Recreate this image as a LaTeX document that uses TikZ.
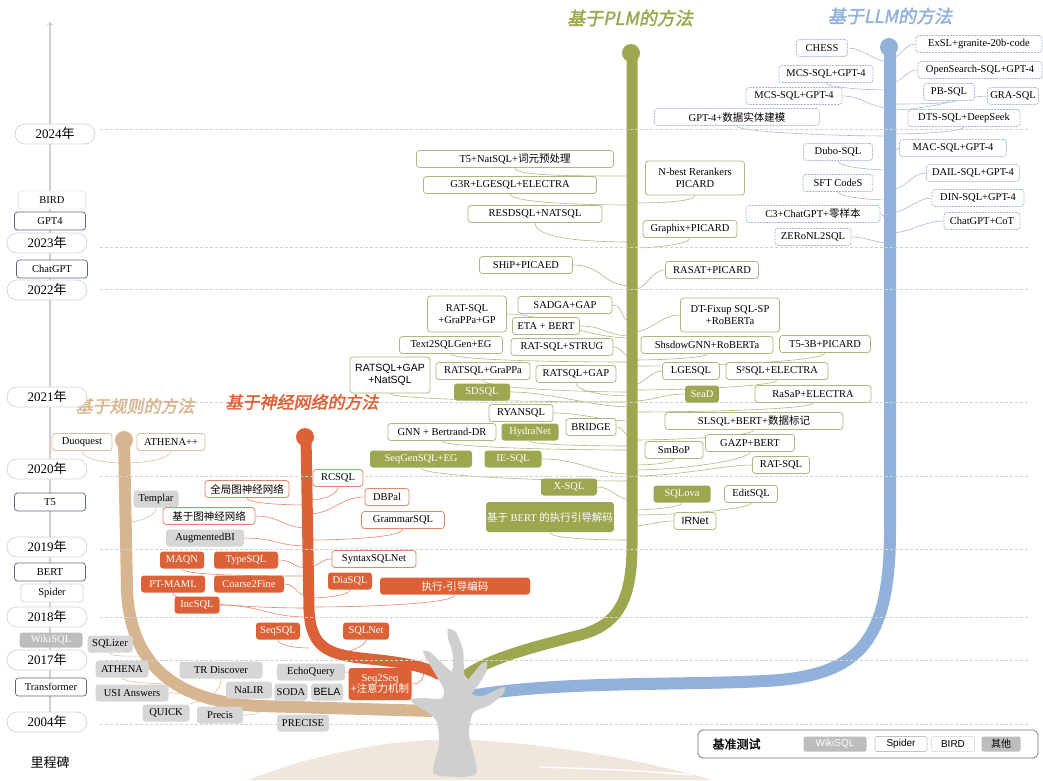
\documentclass[tikz,border=0pt]{standalone}
\usepackage{fontspec}
\setmainfont{Liberation Serif}
\setsansfont{Liberation Sans}
\newfontfamily\cjk{Noto Sans CJK SC}
\newfontfamily\cjkb[FakeBold=1.5]{Noto Sans CJK SC}
\newfontfamily\cjkt[FakeSlant=0.2,FakeBold=2]{Noto Sans CJK SC}

\definecolor{tanc}{HTML}{D7B590}
\definecolor{tanl}{HTML}{DDBE9C}
\definecolor{orc}{HTML}{DC6136}
\definecolor{orl}{HTML}{E2876A}
\definecolor{olc}{HTML}{9DA74F}
\definecolor{oll}{HTML}{B2B67E}
\definecolor{blc}{HTML}{91B1DB}
\definecolor{bll}{HTML}{A9BAD6}
\definecolor{othc}{HTML}{D6D6D6}
\definecolor{treec}{HTML}{CFCFCF}
\definecolor{groundc}{HTML}{EFE7DC}
\definecolor{gridc}{HTML}{D0D0D0}
\definecolor{pillc}{HTML}{D4D4D4}
\definecolor{legb}{HTML}{C4C4C4}
\definecolor{slatec}{HTML}{5B6682}
\definecolor{wikic}{HTML}{BDBDBD}
\definecolor{legc}{HTML}{6E6E7A}

\pgfdeclarelayer{bg}
\pgfdeclarelayer{mid}
\pgfsetlayers{bg,mid,main}

\tikzset{
  year/.style={draw=pillc, line width=0.7pt, rounded corners=10pt, fill=white,
    minimum width=80, minimum height=20, inner sep=0pt, font=\fontsize{13}{14}\selectfont},
  mile/.style={draw=slatec, line width=0.7pt, rounded corners=3pt, fill=white,
    minimum width=71, minimum height=18, inner sep=0pt, font=\fontsize{10.5}{11}\selectfont},
  box/.style={rounded corners=3pt, minimum height=17, inner sep=2pt, line width=0.8pt,
    align=center, font=\fontsize{10.5}{11.5}\selectfont},
  sans/.style={font=\sffamily\fontsize{10.5}{11.5}\selectfont},
  zh/.style={font=\cjk\fontsize{10.5}{11.5}\selectfont},
  oth/.style={box, fill=othc},
  rsp/.style={box, draw=tanl, fill=white},
  nwk/.style={box, fill=orc, text=white},
  nsp/.style={box, draw=orl, fill=white},
  pwk/.style={box, fill=olc, text=white},
  psp/.style={box, draw=oll, fill=white},
  lbd/.style={box, draw=bll, dash pattern=on 2pt off 1pt, fill=white},
  leg/.style={rounded corners=2pt, minimum height=15, inner sep=1pt, line width=0.7pt,
    font=\sffamily\fontsize{10}{11}\selectfont},
  title/.style={font=\cjkt\fontsize{18}{20}\selectfont},
  yearline/.style={gridc, line width=0.6pt, dash pattern=on 3pt off 2pt},
  rlink/.style={tanl, line width=0.6pt},
  nlink/.style={orl, line width=0.6pt},
  plink/.style={oll, line width=0.6pt},
  llink/.style={bll, line width=0.6pt},
}

\begin{document}
\begin{tikzpicture}[x=1pt,y=-1pt]
  \useasboundingbox (0,0) rectangle (1043,780);

  % branch titles
  \node[title, text=olc] (tplm) at (630,18) {基于PLM的方法};
  \node[title, text=blc] (tllm) at (890,16) {基于LLM的方法};
  \node[title, text=tanc, font=\cjkt\fontsize{17}{18}\selectfont] (trule) at (135,406) {基于规则的方法};
  \node[title, text=orc, font=\cjkt\fontsize{17}{18}\selectfont] (tneur) at (302,402) {基于神经网络的方法};

  % milestones on the time axis
  \node[year] (y2024) at (55,134) {2024{\cjk 年}};
  \node[year] (y2023) at (47,243) {2023{\cjk 年}};
  \node[year] (y2022) at (47,290) {2022{\cjk 年}};
  \node[year] (y2021) at (47,397) {2021{\cjk 年}};
  \node[year] (y2020) at (47,469) {2020{\cjk 年}};
  \node[year] (y2019) at (47,547) {2019{\cjk 年}};
  \node[year] (y2018) at (47,617) {2018{\cjk 年}};
  \node[year] (y2017) at (47,660) {2017{\cjk 年}};
  \node[year] (y2004) at (47,722) {2004{\cjk 年}};
  \node[mile, draw=pillc, dash pattern=on 1pt off 1pt, minimum width=67] (mbird) at (52,200) {BIRD};
  \node[mile] (mgpt4) at (50,221) {GPT4};
  \node[mile] (mchat) at (52,269) {ChatGPT};
  \node[mile] (mt5) at (50,502) {T5};
  \node[mile] (mbert) at (50,572) {BERT};
  \node[mile, draw=pillc, minimum width=62] (mspider) at (52,593) {Spider};
  \node[mile, draw=none, fill=wikic, text=white, minimum width=63, minimum height=15] (mwiki) at (51,640) {WikiSQL};
  \node[mile] (mtrans) at (51,687) {Transformer};
  \node[font=\cjk\fontsize{13}{14}\selectfont] (mlabel) at (50,763) {里程碑};

  % rule based
  \node[rsp, minimum width=60] (duo) at (82,442) {Duoquest};
  \node[rsp, minimum width=68] (athpp) at (171,442) {ATHENA++};
  \node[oth, minimum width=45] (templar) at (156,499) {Templar};
  \node[oth, minimum width=78] (augbi) at (205,538) {AugmentedBI};
  \node[oth, minimum width=45] (sqlizer) at (110,644) {SQLizer};
  \node[oth, minimum width=53] (athena) at (122,669) {ATHENA};
  \node[oth, minimum width=83] (trd) at (221,670) {TR Discover};
  \node[oth, minimum width=73] (usi) at (132,693) {USI Answers};
  \node[oth, minimum width=46] (nalir) at (249,690) {NaLIR};
  \node[oth, minimum width=47] (quick) at (166,713) {QUICK};
  \node[oth, minimum width=46] (precis) at (220,715) {Precis};
  \node[oth, minimum width=68] (echo) at (311,672) {EchoQuery};
  \node[oth, minimum width=33, inner xsep=1pt] (soda) at (291,692) {SODA};
  \node[oth, sans, minimum width=32] (bela) at (327,692) {BELA};
  \node[oth, minimum width=52] (precise) at (303,723) {PRECISE};

  % neural networks
  \node[nsp, minimum width=50] (rcsql) at (338,478) {RCSQL};
  \node[nsp, zh, minimum width=84] (glob) at (247,489) {全局图神经网络};
  \node[nsp, minimum width=44] (dbpal) at (387,497) {DBPal};
  \node[nsp, zh, minimum width=92] (gnnz) at (209,516) {基于图神经网络};
  \node[nsp, minimum width=83] (gram) at (403,520) {GrammarSQL};
  \node[nwk, minimum width=44] (maqn) at (182,560) {MAQN};
  \node[nwk, minimum width=64] (typesql) at (246,560) {TypeSQL};
  \node[nsp, minimum width=84] (syntax) at (374,559) {SyntaxSQLNet};
  \node[nwk, minimum width=64] (ptmaml) at (173,584) {PT-MAML};
  \node[nwk, minimum width=70] (c2f) at (249,584) {Coarse2Fine};
  \node[nwk, minimum width=44] (diasql) at (350,581) {DiaSQL};
  \node[nwk, zh, minimum width=150] (exeg) at (455,586) {执行-引导编码};
  \node[nwk, minimum width=45] (incsql) at (197,605) {IncSQL};
  \node[nwk, minimum width=44] (seqsql) at (278,631) {SeqSQL};
  \node[nwk, minimum width=46] (sqlnet) at (366,631) {SQLNet};
  \node[nwk, minimum width=63, minimum height=32, inner sep=1pt] (s2s) at (380,684) {Seq2Seq\\{\cjk +注意力机制}};

  % pre-trained language models, left of the stem
  \node[psp, minimum width=197] (t5nat) at (515,159) {T5+NatSQL+{\cjk 词元预处理}};
  \node[psp, minimum width=173] (g3r) at (510,185) {G3R+LGESQL+ELECTRA};
  \node[psp, minimum width=134] (resd) at (535,214) {RESDSQL+NATSQL};
  \node[psp, minimum width=93] (ship) at (526,265) {SHiP+PICAED};
  \node[psp, minimum width=79, minimum height=36] (ratgp) at (467,314) {RAT-SQL\\+GraPPa+GP};
  \node[psp, minimum width=94] (sadga) at (565,305) {SADGA+GAP};
  \node[psp, minimum width=67] (eta) at (546,326) {ETA + BERT};
  \node[psp, minimum width=103] (t2sg) at (451,345) {Text2SQLGen+EG};
  \node[psp, minimum width=102] (strug) at (562,347) {RAT-SQL+STRUG};
  \node[psp, sans, minimum width=80, minimum height=36] (rgapn) at (390,375) {RATSQL+GAP\\+NatSQL};
  \node[psp, minimum width=94] (rgrap) at (483,371) {RATSQL+GraPPa};
  \node[psp, minimum width=80] (rgap) at (576,374) {RATSQL+GAP};
  \node[pwk, minimum width=56] (sdsql) at (482,392) {SDSQL};
  \node[psp, minimum width=64] (ryan) at (521,413) {RYANSQL};
  \node[psp, minimum width=108] (gnnb) at (442,432) {GNN + Bertrand-DR};
  \node[pwk, minimum width=57] (hydra) at (530,432) {HydraNet};
  \node[psp, minimum width=50] (bridge) at (591,427) {BRIDGE};
  \node[pwk, minimum width=102] (seqgen) at (421,459) {SeqGenSQL+EG};
  \node[pwk, minimum width=57] (iesql) at (513,459) {IE-SQL};
  \node[pwk, minimum width=56] (xsql) at (569,487) {X-SQL};
  \node[pwk, minimum width=126, minimum height=30, inner xsep=1pt] (bertd) at (550,517) {{\cjk 基于} BERT {\cjk 的执行引导解码}};

  % pre-trained language models, right of the stem
  \node[psp, minimum width=99, minimum height=34] (nbest) at (695,178) {N-best Rerankers\\PICARD};
  \node[psp, minimum width=94] (graphix) at (690,229) {Graphix+PICARD};
  \node[psp, minimum width=93] (rasat) at (712,270) {RASAT+PICARD};
  \node[psp, minimum width=99, minimum height=34] (dtfix) at (730,315) {DT-Fixup SQL-SP\\+RoBERTa};
  \node[psp, minimum width=132] (shadow) at (707,345) {ShsdowGNN+RoBERTa};
  \node[psp, minimum width=91] (t53b) at (825,344) {T5-3B+PICARD};
  \node[psp, minimum width=57] (lge) at (691,371) {LGESQL};
  \node[psp, minimum width=102] (s2sql) at (777,371) {S²SQL+ELECTRA};
  \node[pwk, minimum width=34] (sead) at (702,394) {SeaD};
  \node[psp, minimum width=116] (rasap) at (813,394) {RaSaP+ELECTRA};
  \node[psp, minimum width=178] (slsql) at (754,421) {SLSQL+BERT+{\cjk 数据标记}};
  \node[psp, minimum width=58] (smbop) at (674,450) {SmBoP};
  \node[psp, minimum width=89] (gazp) at (750,443) {GAZP+BERT};
  \node[psp, minimum width=57] (ratsql) at (781,465) {RAT-SQL};
  \node[pwk, minimum width=57] (sqlova) at (682,494) {SQLova};
  \node[psp, minimum width=53] (editsql) at (751,494) {EditSQL};
  \node[psp, sans, minimum width=42] (irnet) at (695,521) {IRNet};

  % large language models
  \node[lbd, minimum width=51] (chess) at (822,48) {CHESS};
  \node[lbd, minimum width=94] (mcs1) at (826,74) {MCS-SQL+GPT-4};
  \node[lbd, minimum width=96] (mcs2) at (794,96) {MCS-SQL+GPT-4};
  \node[lbd, minimum width=165] (gpt4e) at (737,117) {GPT-4+{\cjk 数据实体建模}};
  \node[lbd, minimum width=69] (dubo) at (838,152) {Dubo-SQL};
  \node[lbd, minimum width=70] (sftc) at (838,183) {SFT CodeS};
  \node[lbd, minimum width=134] (c3) at (813,214) {C3+ChatGPT+{\cjk 零样本}};
  \node[lbd, minimum width=76] (zero) at (813,237) {ZERoNL2SQL};
  \node[lbd, minimum width=126] (exsl) at (979,44) {ExSL+granite-20b-code};
  \node[lbd, minimum width=124] (opens) at (980,70) {OpenSearch-SQL+GPT-4};
  \node[lbd, minimum width=51] (pbsql) at (949,92) {PB-SQL};
  \node[lbd, minimum width=51] (grasql) at (1013,96) {GRA-SQL};
  \node[lbd, minimum width=112] (dts) at (964,118) {DTS-SQL+DeepSeek};
  \node[lbd, minimum width=107] (mac) at (953,148) {MAC-SQL+GPT-4};
  \node[lbd, minimum width=93] (dail) at (973,173) {DAIL-SQL+GPT-4};
  \node[lbd, minimum width=92] (din) at (978,198) {DIN-SQL+GPT-4};
  \node[lbd, minimum width=76] (cot) at (982,221) {ChatGPT+CoT};

  % legend
  \node[draw=legc, line width=0.7pt, rounded corners=5pt, minimum width=340, minimum height=28] (legend) at (868,744) {};
  \node[font=\cjkb\fontsize{12}{13}\selectfont, anchor=west] (legtitle) at (709,744) {基准测试};
  \node[leg, fill=wikic, text=white, minimum width=63] (lwiki) at (835,744) {WikiSQL};
  \node[leg, draw=legb, minimum width=52] (lspider) at (901,744) {Spider};
  \node[leg, draw=legb, dash pattern=on 1pt off 1pt, minimum width=43] (lbird) at (953,744) {BIRD};
  \node[leg, fill=wikic, minimum width=39, font=\cjk\fontsize{10}{11}\selectfont] (loth) at (1001,744) {其他};

  \begin{pgfonlayer}{bg}
    % ground
    \fill[groundc] (248,780) .. controls (330,748) and (410,737) .. (470,740)
      .. controls (560,744) and (660,764) .. (712,780) -- cycle;
    \draw[white, line width=1.5pt] (540,767) .. controls (600,769) and (650,771) .. (692,775);
    % twigs: name/anchor/control out/control in/end on the stem
    \foreach \n/\a/\ax/\ay/\bx/\by/\x/\y in {
      duo/south/0/8/-20/0/124/463, athpp/south/0/8/20/0/124/463,
      templar/south/0/8/15/0/126/522, sqlizer/south/0/4/-15/0/145/656,
      athena/south/0/4/-25/0/176/684, trd/south/0/8/10/-6/206/699,
      usi/east/10/0/-10/0/195/694, nalir/south/0/4/10/-2/230/703,
      quick/north east/6/-3/-6/3/205/699, precis/east/12/0/0/8/262/706,
      echo/east/15/0/0/-15/360/709, soda/south/0/3/3/-2/285/707,
      bela/south/0/3/5/-2/318/708, precise/north east/6/-3/-6/0/345/709}{
      \coordinate (\n-t) at (\x,\y);
      \draw[rlink] (\n.\a) .. controls +(\ax,\ay) and +(\bx,\by) .. (\n-t);
    }
    \foreach \n/\a/\ax/\ay/\bx/\by/\x/\y in {
      rcsql/south/0/8/15/0/308/500, glob/south/0/5/-30/0/308/505,
      dbpal/west/-25/0/25/0/308/514, gnnz/east/25/0/-25/0/308/528,
      gram/south/0/8/40/0/308/540, augbi/east/30/0/-30/0/308/546,
      typesql/east/15/0/-15/0/308/568, syntax/west/-12/0/12/0/308/567,
      maqn/south/0/6/-60/0/308/576, c2f/east/12/0/-12/0/308/596,
      diasql/south/0/5/20/0/308/598, exeg/south/0/8/70/0/308/607,
      ptmaml/south/0/10/-60/0/308/608, incsql/east/40/0/-40/0/308/617,
      seqsql/south/0/5/-15/0/309/648, sqlnet/south/0/6/12/-3/339/654,
      s2s/east/10/0/0/10/424/668}{
      \coordinate (\n-t) at (\x,\y);
      \draw[nlink] (\n.\a) .. controls +(\ax,\ay) and +(\bx,\by) .. (\n-t);
    }
    \foreach \n/\a/\ax/\ay/\bx/\by/\x/\y in {
      t5nat/south/0/8/-60/0/632/176, g3r/south/0/8/-60/0/632/205,
      resd/south/0/15/-50/0/632/242, ship/east/30/0/-30/0/632/286,
      ratgp/east/40/0/-50/0/632/338, sadga/east/12/0/-12/0/632/322,
      eta/east/25/0/-25/0/632/336, t2sg/south/0/6/-80/0/632/362,
      strug/east/10/0/-10/0/632/357, rgrap/south/0/8/-60/0/632/392,
      rgap/south/0/8/-30/0/632/396, rgapn/south/0/6/-100/0/632/402,
      sdsql/east/40/0/-40/0/632/407, ryan/east/30/0/-30/0/632/421,
      bridge/east/8/0/-8/0/632/437, gnnb/south/0/6/-80/0/632/450,
      hydra/south/0/4/-40/0/632/446, seqgen/south/0/8/-90/0/632/481,
      iesql/east/40/0/-40/0/632/474, xsql/east/15/0/-15/0/632/500,
      bertd/south/0/6/-40/0/632/540,
      nbest/south/0/6/30/0/632/203, graphix/south/0/6/25/0/632/248,
      rasat/west/-15/0/15/0/632/290, dtfix/west/-20/0/20/0/632/332,
      shadow/south/0/4/30/0/632/360, t53b/south/0/8/90/0/632/366,
      lge/west/-12/0/12/0/632/385, s2sql/south/0/6/60/0/632/390,
      sead/west/-20/0/20/0/632/401, rasap/south/0/6/80/0/632/412,
      slsql/south/0/6/50/0/632/440, smbop/south/0/4/20/0/632/465,
      gazp/south/0/8/50/0/632/470, ratsql/west/-30/0/50/0/632/476,
      sqlova/south/0/4/20/0/632/510, editsql/south/0/6/50/0/632/515,
      irnet/west/-15/0/15/0/632/526}{
      \coordinate (\n-t) at (\x,\y);
      \draw[plink] (\n.\a) .. controls +(\ax,\ay) and +(\bx,\by) .. (\n-t);
    }
    \foreach \n/\a/\ax/\ay/\bx/\by/\x/\y in {
      chess/east/15/0/-15/0/890/62, mcs1/south/0/4/-30/0/890/90,
      mcs2/east/20/0/-20/0/890/108, gpt4e/south/0/6/-60/0/890/136,
      dubo/south/0/6/-20/0/890/170, sftc/south/0/5/-20/0/890/200,
      c3/east/6/0/-6/0/890/226, zero/east/15/0/-15/0/890/243,
      exsl/west/-12/0/12/0/890/58, opens/west/-12/0/12/0/890/83,
      pbsql/south/0/3/25/0/890/104, grasql/west/-20/0/40/0/890/110,
      dts/south/0/4/40/0/890/134, mac/west/-6/0/6/0/890/160,
      dail/west/-15/0/15/0/890/190, din/west/-15/0/15/0/890/213,
      cot/west/-20/0/20/0/890/233}{
      \coordinate (\n-t) at (\x,\y);
      \draw[llink] (\n.\a) .. controls +(\ax,\ay) and +(\bx,\by) .. (\n-t);
    }
  \end{pgfonlayer}

  \begin{pgfonlayer}{mid}
    % the four stems
    \draw[tanc, line width=12pt] (124,440) -- (127,590) .. controls (130,660) and (170,702) .. (260,706) -- (432,711);
    \fill[tanc] (124,440) circle (9);
    \draw[orc, line width=11pt] (306,436) -- (309,610) .. controls (311,650) and (330,655) .. (370,659)
      .. controls (400,662) and (425,666) .. (440,675);
    \fill[orc] (305,437) circle (9);
    \draw[olc, line width=11pt] (632,53) -- (632,545) .. controls (632,600) and (618,625) .. (580,635)
      .. controls (530,648) and (490,658) .. (465,676);
    \fill[olc] (631,53) circle (9);
    \draw[blc, line width=12pt] (890,47) -- (890,530) .. controls (890,640) and (860,672) .. (780,680)
      .. controls (700,686) and (560,680) .. (470,696);
    \fill[blc] (889,47) circle (9);
    % tree
    \fill[treec] plot [smooth cycle, tension=0.4] coordinates {(434,774) (439,745) (437,722) (427,712)
      (413,703) (410,699) (424,698) (441,699) (444,690) (436,675) (427,660) (423,651) (430,652)
      (445,666) (452,671) (453,655) (448,638) (448,629) (456,632) (463,650) (464,672) (467,680)
      (476,670) (482,663) (487,662) (486,672) (479,684) (472,694) (483,696) (498,689) (505,687)
      (503,694) (490,705) (473,713) (469,735) (476,774)};
    % year lines and time axis
    \foreach \y in {129,247,289,402,476,549,617,660,724}
      \draw[yearline] (100,\y) -- (1030,\y);
    \draw[treec, line width=1.2pt, ->] (50,722) -- (50,22);
  \end{pgfonlayer}
\end{tikzpicture}
\end{document}
